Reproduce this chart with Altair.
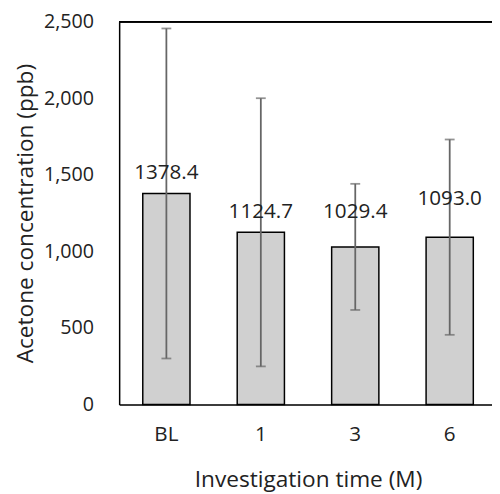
import altair as alt
import pandas as pd

times = ["BL", "1", "3", "6"]
means = [1378.4, 1124.7, 1029.4, 1093.0]
sds = [1078, 876, 412, 638]
label_texts = ["1378.4", "1124.7", "1029.4", "1093.0"]
label_gap_px = [15, 15, 29, 33]

df = pd.DataFrame({
    "time": times,
    "mean": means,
    "lo": [m - s for m, s in zip(means, sds)],
    "hi": [m + s for m, s in zip(means, sds)],
    "label": label_texts,
})

FONT = "Open Sans"
W, H = 379, 389
xscale = alt.Scale(domain=times, range=[0, 384], paddingInner=0.5, paddingOuter=0.25)
yscale = alt.Scale(domain=[0, 2500], nice=False)

x = alt.X("time:N", scale=xscale, sort=times,
          axis=alt.Axis(title="Investigation time (M)", labelAngle=0, ticks=False,
                        domainColor="black", domainWidth=1.5, labelPadding=20,
                        titlePadding=24, labelFontSize=21, titleFontSize=23,
                        labelFont=FONT, titleFont=FONT, labelColor="#222",
                        titleColor="#222", titleFontWeight="normal"))
y = alt.Y("mean:Q", scale=yscale,
          axis=alt.Axis(title="Acetone concentration (ppb)", values=[0, 500, 1000, 1500, 2000, 2500],
                        labelExpr="format(datum.value, ',.0f')", ticks=False, grid=False,
                        domainColor="black", domainWidth=1.5, labelPadding=26, titlePadding=6,
                        labelFontSize=20, titleFontSize=23, labelFont=FONT,
                        titleFont=FONT, labelColor="#222", titleColor="#222",
                        titleFontWeight="normal"))

base = alt.Chart(df)
bars = base.mark_bar(color="#d0d0d0", stroke="black", strokeWidth=1.5).encode(x=x, y=y)
err = base.mark_rule(color="#666666", strokeWidth=1.8).encode(
    x=alt.X("time:N", scale=xscale, sort=times), y=alt.Y("lo:Q", scale=yscale), y2="hi:Q")
cap_hi = base.mark_tick(color="#666666", thickness=1.8, size=10).encode(
    x=alt.X("time:N", scale=xscale, sort=times), y=alt.Y("hi:Q", scale=yscale))
cap_lo = base.mark_tick(color="#666666", thickness=1.8, size=10).encode(
    x=alt.X("time:N", scale=xscale, sort=times), y=alt.Y("lo:Q", scale=yscale))

labels = []
for t, gap in zip(times, label_gap_px):
    labels.append(
        base.transform_filter(alt.datum.time == t).mark_text(
            font=FONT, fontSize=21, color="#222", baseline="alphabetic", dy=-gap
        ).encode(x=alt.X("time:N", scale=xscale, sort=times),
                 y=alt.Y("mean:Q", scale=yscale), text="label:N")
    )

top = alt.Chart(df).mark_rule(color="black", strokeWidth=1.5).encode(
    x=alt.value(0), x2=alt.value(384), y=alt.value(0))

chart = alt.layer(bars, err, cap_hi, cap_lo, *labels, top).properties(
    width=W, height=H,
    autosize=alt.AutoSizeParams(type="none"),
    padding={"left": 113, "top": 10, "right": 0, "bottom": 87},
).configure_view(stroke=None).configure(background="white")

chart.save("out.html", embed_options={"renderer": "svg", "actions": False})
